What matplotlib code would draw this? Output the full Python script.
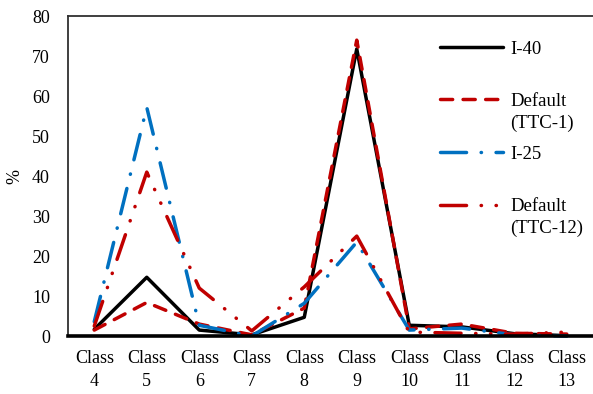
import numpy as np
import matplotlib
matplotlib.use("Agg")
import matplotlib.pyplot as plt
from matplotlib.legend_handler import HandlerLine2D

plt.rcParams['font.family'] = ['Liberation Serif', 'DejaVu Serif']
plt.rcParams['font.size'] = 13

# data (% per class)
classes = ["Class\n4", "Class\n5", "Class\n6", "Class\n7", "Class\n8",
           "Class\n9", "Class\n10", "Class\n11", "Class\n12", "Class\n13"]
i40 = [1.7, 14.7, 1.5, 0.3, 4.7, 71.8, 2.7, 2.3, 0.6, 0.1]
ttc1 = [1.5, 8.4, 3.0, 0.3, 7.0, 74.0, 1.8, 3.0, 0.7, 0.5]
i25 = [3.6, 57.2, 2.7, 0.0, 8.2, 23.5, 1.5, 2.0, 0.3, 0.0]
ttc12 = [2.5, 41.0, 12.0, 1.3, 12.3, 25.0, 1.0, 0.7, 0.5, 1.0]

labels = ["I-40\n", "Default\n(TTC-1)", "I-25\n", "Default\n(TTC-12)"]
series = [i40, ttc1, i25, ttc12]
colors = ["#000000", "#C00000", "#0070C0", "#C00000"]
styles = ["-", (0, (3.5, 3.0)), (0, (7.5, 4.2, 0.1, 4.2)),
          (0, (7.5, 4.2, 0.1, 4.2, 0.1, 4.2))]


class TopLine(HandlerLine2D):
    # put the legend line level with the first text line (like Excel)
    def create_artists(self, legend, orig_handle, xdescent, ydescent,
                       width, height, fontsize, trans):
        arts = super().create_artists(legend, orig_handle, xdescent, ydescent,
                                      width, height, fontsize, trans)
        for a in arts:
            a.set_ydata(np.asarray(a.get_ydata()) + 0.68 * fontsize)
        return arts


fig = plt.figure(figsize=(5.93, 3.94), dpi=100)
ax = fig.add_axes([0.1147, 0.147, 0.8853, 0.812])

x = np.arange(len(classes))
for ys, lab, c, ls in zip(series, labels, colors, styles):
    ax.plot(x, ys, color=c, linestyle=ls, linewidth=2.5, label=lab,
            dash_capstyle='round', solid_capstyle='round', clip_on=False)

ax.set_xlim(-0.5, len(classes) - 0.5)
ax.set_ylim(0, 80)
ax.set_yticks(range(0, 81, 10))
ax.set_xticks(x)
ax.set_xticklabels(classes, linespacing=1.45)
ax.tick_params(axis='both', length=0)
ax.tick_params(axis='x', pad=10)
ax.tick_params(axis='y', pad=13)
ax.set_ylabel("%", labelpad=6)

ax.spines['right'].set_visible(False)
for s in ['top', 'left']:
    ax.spines[s].set_color('#303030')
    ax.spines[s].set_linewidth(1.3)
ax.spines['bottom'].set_linewidth(2.6)
ax.spines['bottom'].set_color('#000000')

leg = ax.legend(loc='upper left', bbox_to_anchor=(0.6945, 0.947), frameon=False,
                fontsize=13.5, handlelength=3.36, handletextpad=0.37,
                labelspacing=0.75, borderaxespad=0,
                handler_map={plt.Line2D: TopLine()})
for t in leg.get_texts():
    t.set_linespacing(1.33)

fig.savefig("out.png", dpi=100)
